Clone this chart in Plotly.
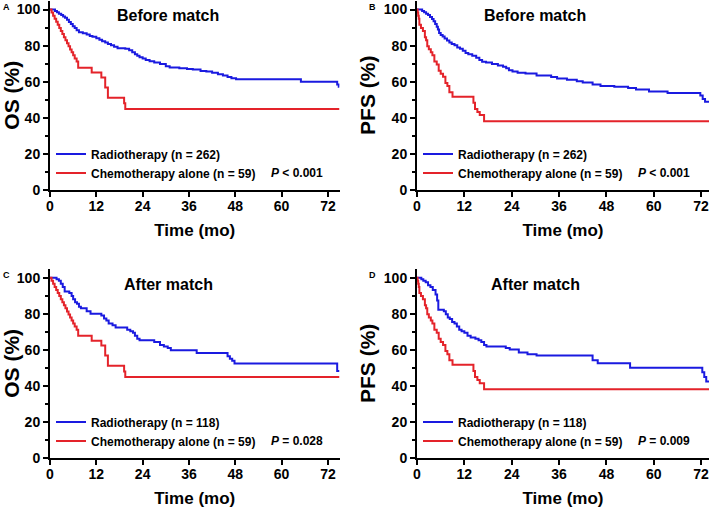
import plotly.graph_objects as go

# Kaplan-Meier steps: time (months) and survival (%)

# A - OS before match
os_rt_before_t = [0, 1.3, 1.8, 2.3, 2.9, 3.4, 3.9, 4.4, 4.9, 5.4, 5.9, 6.4, 6.9, 7.5, 8.5, 9.5, 10.3, 11.0,
                  12.0, 12.8, 13.5, 14.3, 15.0, 15.8, 16.6, 17.5, 19.5, 20.5, 21.3, 22.0, 22.6, 23.2, 24.0,
                  24.8, 25.8, 27.0, 28.5, 30.0, 31.0, 33.5, 35.5, 37.0, 39.0, 40.5, 42.0, 43.5, 44.8, 46.0,
                  47.0, 48.2, 65.0, 74.4, 74.8, 75]
os_rt_before_v = [100, 99.2, 98.5, 97.7, 96.9, 96.2, 95.4, 94.3, 93.1, 92.0, 90.8, 89.7, 88.5, 87.4, 86.9,
                  86.1, 85.3, 84.9, 84.1, 83.2, 82.4, 81.7, 80.9, 80.2, 79.4, 78.6, 78.2, 77.4, 76.3, 75.2,
                  74.4, 73.6, 72.9, 72.1, 71.3, 70.6, 69.8, 68.6, 67.9, 67.5, 67.1, 66.7, 66.0, 65.6, 64.9,
                  64.1, 63.4, 62.6, 61.9, 61.4, 60.0, 58.5, 57.2, 57.2]

# chemotherapy alone group (same 59 patients before and after match)
os_ct_t = [0, 0.4, 0.8, 1.2, 1.6, 2.0, 2.4, 2.8, 3.2, 3.6, 4.0, 4.4, 4.8, 5.2, 5.6, 6.0, 6.4, 6.9, 7.3,
           10.8, 13.3, 14.3, 15.0, 19.2, 19.5, 75]
os_ct_v = [100, 98.3, 96.6, 94.9, 93.2, 91.5, 89.8, 88.1, 86.4, 84.7, 83.0, 81.3, 79.6, 77.9, 76.3, 74.6,
           72.9, 71.2, 67.8, 65.1, 62.4, 56.8, 51.1, 48.0, 44.9, 44.9]

# B - PFS before match
pfs_rt_before_t = [0, 1.3, 1.8, 2.3, 2.8, 3.3, 3.8, 4.2, 4.6, 5.0, 5.3, 5.6, 6.0, 6.5, 7.0, 7.6, 8.2, 8.8,
                   9.5, 10.2, 10.9, 11.6, 12.3, 13.0, 14.0, 15.0, 15.8, 16.5, 17.5, 19.0, 20.5, 21.8, 22.6,
                   23.3, 24.2, 25.5, 27.5, 30.3, 34.0, 35.5, 38.0, 40.5, 42.0, 44.5, 46.5, 50.0, 53.5, 55.5,
                   58.8, 63.5, 71.8, 72.4, 73.0, 75]
pfs_rt_before_v = [100, 99.2, 98.5, 97.7, 96.9, 95.8, 94.7, 93.5, 92.0, 90.4, 88.9, 87.0, 85.9, 85.1, 84.0,
                   82.8, 81.7, 80.9, 80.2, 79.0, 78.2, 77.1, 75.9, 75.2, 74.4, 73.3, 72.1, 71.0, 70.6, 69.8,
                   69.0, 68.3, 67.5, 66.4, 65.6, 64.9, 64.5, 63.4, 62.6, 61.8, 61.1, 60.3, 59.5, 58.4, 57.6,
                   57.2, 56.5, 55.7, 54.6, 53.8, 52.3, 50.4, 48.9, 48.9]

pfs_ct_t = [0, 0.15, 0.3, 0.45, 0.6, 1.0, 1.5, 2.0, 2.3, 2.6, 3.0, 3.5, 3.9, 4.4, 5.0, 5.5, 6.0, 6.6, 7.2,
            7.7, 8.2, 9.0, 14.3, 14.7, 15.3, 15.9, 17.0, 75]
pfs_ct_v = [100, 98.3, 96.6, 94.9, 91.5, 89.8, 88.1, 84.7, 83.0, 79.7, 78.0, 76.3, 74.6, 71.2, 69.5, 66.1,
            64.4, 62.7, 59.3, 57.6, 54.2, 51.7, 48.3, 44.9, 43.2, 41.5, 38.1, 38.1]

# C - OS after match
os_rt_after_t = [0, 1.7, 2.3, 2.8, 3.3, 3.8, 5.0, 5.6, 6.0, 6.5, 7.0, 7.5, 8.0, 9.5, 10.5, 13.3, 14.0, 14.6,
                 15.2, 16.2, 17.0, 20.0, 20.8, 21.5, 22.0, 22.6, 23.2, 27.0, 28.5, 29.5, 30.5, 31.3, 38.0,
                 46.0, 46.6, 47.2, 47.8, 74.4, 75]
os_rt_after_v = [100, 99.2, 98.3, 96.6, 94.9, 92.4, 91.5, 89.8, 88.1, 86.4, 85.6, 83.9, 83.1, 81.4, 80.0,
                 79.1, 77.4, 76.3, 74.6, 73.7, 72.4, 71.2, 70.3, 69.5, 67.8, 66.1, 65.3, 64.4, 62.7, 61.9,
                 61.0, 59.8, 58.2, 56.5, 55.1, 53.9, 52.4, 48.3, 48.3]

# D - PFS after match
pfs_rt_after_t = [0, 1.1, 1.6, 2.2, 2.8, 3.4, 4.0, 4.7, 5.1, 5.4, 6.8, 7.3, 7.8, 8.3, 8.9, 9.5, 10.1, 10.7,
                  11.3, 12.0, 12.8, 13.6, 14.8, 15.6, 16.3, 17.0, 17.6, 22.5, 23.5, 25.8, 28.0, 30.3, 44.5,
                  45.8, 54.0, 72.3, 72.8, 73.3, 75]
pfs_rt_after_v = [100, 99.2, 98.3, 97.5, 95.8, 94.9, 93.2, 90.7, 87.3, 82.2, 81.4, 79.7, 78.0, 77.1, 75.4,
                  74.6, 72.9, 71.2, 70.3, 69.5, 67.8, 66.9, 66.1, 65.3, 64.4, 62.7, 61.9, 61.0, 60.2, 58.5,
                  57.6, 56.8, 54.2, 52.5, 50.0, 47.5, 44.9, 42.4, 42.4]

panel_letters = ['A', 'B', 'C', 'D']
panel_titles = ['Before match', 'Before match', 'After match', 'After match']
y_titles = ['OS (%)', 'PFS (%)', 'OS (%)', 'PFS (%)']
rt_sizes = [262, 262, 118, 118]
ct_size = 59
p_values = ['<i>P</i> < 0.001', '<i>P</i> < 0.001', '<i>P</i> = 0.028', '<i>P</i> = 0.009']
x_ticks = [0, 12, 24, 36, 48, 60, 72]
y_ticks = [0, 20, 40, 60, 80, 100]

curves = [
    (os_rt_before_t, os_rt_before_v, os_ct_t, os_ct_v),
    (pfs_rt_before_t, pfs_rt_before_v, pfs_ct_t, pfs_ct_v),
    (os_rt_after_t, os_rt_after_v, os_ct_t, os_ct_v),
    (pfs_rt_after_t, pfs_rt_after_v, pfs_ct_t, pfs_ct_v),
]

W, H = 709, 509
BLUE = '#1a1ae0'
RED = '#e4232a'
FONT = 'Liberation Sans, Arial, sans-serif'

# pixel boxes of the four plot areas: (left, right, top of y=105, bottom), x range max
boxes = [
    (50, 339.5, 0.5, 190, 75),
    (417, 709, 0.5, 190, 74),
    (50, 339.5, 268.7, 458, 75),
    (417, 709, 268.7, 458, 74),
]

fig = go.Figure()
layout = {}
annotations = []

for i in range(4):
    ax = '' if i == 0 else str(i + 1)
    rt_t, rt_v, ct_t, ct_v = curves[i]
    left, right, top, bottom, xmax = boxes[i]
    # one legend per entry so the two rows sit where they do in the figure
    leg_rt = 'legend' if i == 0 else 'legend' + str(2 * i + 1)
    leg_ct = 'legend' + str(2 * i + 2)

    fig.add_trace(go.Scatter(x=rt_t, y=rt_v, mode='lines', line=dict(color=BLUE, width=2, shape='hv'),
                             name=f'Radiotherapy (n = {rt_sizes[i]})', xaxis='x' + ax, yaxis='y' + ax,
                             legend=leg_rt))
    fig.add_trace(go.Scatter(x=ct_t, y=ct_v, mode='lines', line=dict(color=RED, width=2, shape='hv'),
                             name=f'Chemotherapy alone (n = {ct_size})', xaxis='x' + ax, yaxis='y' + ax,
                             legend=leg_ct))

    layout['xaxis' + ax] = dict(
        domain=[left / W, right / W], range=[0, xmax], anchor='y' + ax, automargin=False,
        tickvals=x_ticks, ticks='outside', ticklen=5, tickwidth=2, tickcolor='black',
        ticklabelstandoff=-3, ticklabeloverflow='allow',
        showline=True, linecolor='black', linewidth=2, showgrid=False, zeroline=False,
        tickfont=dict(size=14, family=FONT, color='black', weight='bold'),
        title=dict(text='Time (mo)', font=dict(size=17, family=FONT, color='black', weight='bold'),
                   standoff=11),
    )
    layout['yaxis' + ax] = dict(
        domain=[(H - bottom) / H, (H - top) / H], range=[0, 105], anchor='x' + ax, automargin=False,
        tickvals=y_ticks, ticks='outside', ticklen=5, tickwidth=2, tickcolor='black',
        minor=dict(tickvals=[10, 30, 50, 70, 90], ticks='outside', ticklen=3, tickwidth=1.5,
                   tickcolor='black'),
        showline=True, linecolor='black', linewidth=2, showgrid=False, zeroline=False,
        tickfont=dict(size=14, family=FONT, color='black', weight='bold'),
        title=dict(text=y_titles[i], font=dict(size=21, family=FONT, color='black', weight='bold'),
                   standoff=2),
    )
    for leg, row_y in [(leg_rt, bottom - 36), (leg_ct, bottom - 17)]:
        layout[leg] = dict(
            x=(left + 1) / W, y=(H - row_y) / H, xanchor='left', yanchor='middle',
            bgcolor='rgba(0,0,0,0)', itemwidth=30, visible=True,
            font=dict(size=12, family=FONT, color='black', weight='bold'),
        )

    # panel title, panel letter and p value
    annotations.append(dict(text=panel_titles[i], x=(left + 118) / W, y=(H - (top + 15.5)) / H,
                            xref='paper', yref='paper', showarrow=False, xanchor='center', yanchor='middle',
                            font=dict(size=16, family=FONT, color='black', weight='bold')))
    annotations.append(dict(text=panel_letters[i], x=(left - 44) / W, y=(H - (top + 6.5)) / H,
                            xref='paper', yref='paper', showarrow=False, xanchor='center', yanchor='middle',
                            font=dict(size=9, family=FONT, color='black', weight='bold')))
    annotations.append(dict(text=p_values[i], x=(left + 219) / W, y=(H - (bottom - 17)) / H,
                            xref='paper', yref='paper', showarrow=False, xanchor='left', yanchor='middle',
                            font=dict(size=12, family=FONT, color='black', weight='bold')))

fig.update_layout(
    width=W, height=H,
    showlegend=True,
    margin=dict(l=0, r=0, t=0, b=0, autoexpand=False),
    paper_bgcolor='white', plot_bgcolor='white',
    annotations=annotations,
    **layout
)

# the page's default body margin would push the fixed-size figure off the window
fig.write_html('out.html', config={'displayModeBar': False},
               post_script="document.body.style.margin = '0px';")
